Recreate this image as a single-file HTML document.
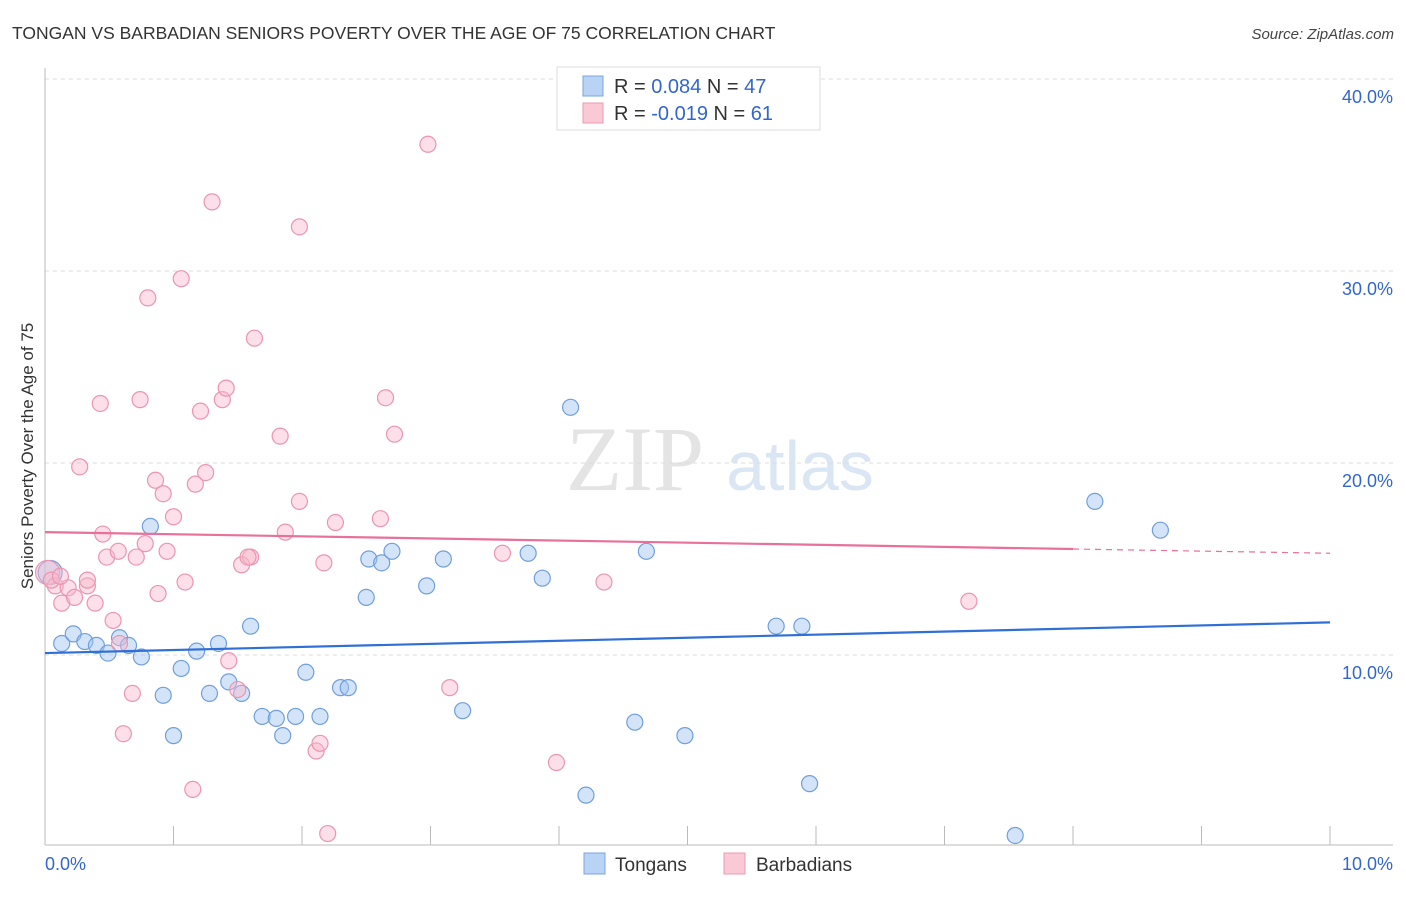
<!DOCTYPE html>
<html><head><meta charset="utf-8"><style>
body{margin:0;background:#fff;font-family:"Liberation Sans",sans-serif}
</style></head><body>
<svg id="chart" width="1406" height="892" xmlns="http://www.w3.org/2000/svg" font-family="Liberation Sans, sans-serif">
<text x="12" y="39" font-size="17.5" fill="#333">TONGAN VS BARBADIAN SENIORS POVERTY OVER THE AGE OF 75 CORRELATION CHART</text>
<text x="1394" y="39" font-size="15" fill="#444" text-anchor="end" font-style="italic">Source: ZipAtlas.com</text>
<text transform="translate(33,456) rotate(-90)" font-size="17" fill="#333" text-anchor="middle">Seniors Poverty Over the Age of 75</text>
<g><text x="635" y="490" font-size="92" fill="#e4e4e4" text-anchor="middle" font-family="Liberation Serif, serif">ZIP</text><text x="800" y="490" font-size="70" fill="#dbe6f4" text-anchor="middle">atlas</text></g>
<g id="grid"></g><g id="axes"></g><g id="marks"></g>
<g>
<rect x="557" y="67" width="263" height="63" fill="#fff" stroke="#ddd"/>
<rect x="583" y="76" width="20" height="20" fill="#b9d3f5" stroke="#7aa6e0"/>
<rect x="583" y="103" width="20" height="20" fill="#f9c9d6" stroke="#eb9ab2"/>
<text x="614" y="93" font-size="20" fill="#333">R = <tspan fill="#3366cc"> 0.084</tspan>   N = <tspan fill="#3366cc">47</tspan></text>
<text x="614" y="120" font-size="20" fill="#333">R = <tspan fill="#3366cc">-0.019</tspan>   N = <tspan fill="#3366cc"> 61</tspan></text>
</g>
<g>
<rect x="584" y="853" width="21" height="21" fill="#b9d3f5" stroke="#7aa6e0"/>
<text x="615" y="871" font-size="19" fill="#333">Tongans</text>
<rect x="724" y="853" width="21" height="21" fill="#f9c9d6" stroke="#eb9ab2"/>
<text x="756" y="871" font-size="19" fill="#333">Barbadians</text>
</g>
</svg>
<script>
const yTicks=[10,20,30,40];
const yTickLabels=["10.0%","20.0%","30.0%","40.0%"];
const xTickLabels=["0.0%","10.0%"];
const tonganX=[0.04,0.13,0.22,0.31,0.40,0.49,0.58,0.65,0.75,0.82,0.92,1.00,1.06,1.18,1.28,1.35,1.43,1.53,1.60,1.69,1.80,1.85,1.95,2.03,2.14,2.30,2.36,2.50,2.52,2.62,2.70,2.97,3.10,3.25,3.76,3.87,4.09,4.21,4.59,4.68,4.98,5.69,5.89,5.95,7.55,8.17,8.68];
const tonganY=[14.3,10.6,11.1,10.7,10.5,10.1,10.9,10.5,9.9,16.7,7.9,5.8,9.3,10.2,8.0,10.6,8.6,8.0,11.5,6.8,6.7,5.8,6.8,9.1,6.8,8.3,8.3,13.0,15.0,14.8,15.4,13.6,15.0,7.1,15.3,14.0,22.9,2.7,6.5,15.4,5.8,11.5,11.5,3.3,0.6,18.0,16.5];
const barbX=[0.02,0.08,0.13,0.18,0.23,0.27,0.33,0.39,0.43,0.45,0.48,0.53,0.57,0.61,0.68,0.71,0.74,0.78,0.80,0.86,0.88,0.92,0.95,1.00,1.06,1.09,1.17,1.15,1.21,1.25,1.30,1.38,1.41,1.43,1.50,1.53,1.60,1.63,1.83,1.87,1.98,1.98,2.11,2.14,2.17,2.20,2.26,2.61,2.65,2.72,2.98,3.15,3.56,3.98,4.35,7.19,0.05,0.12,0.58,1.58,0.33];
const barbY=[14.3,13.6,12.7,13.5,13.0,19.8,13.6,12.7,23.1,16.3,15.1,11.8,15.4,5.9,8.0,15.1,23.3,15.8,28.6,19.1,13.2,18.4,15.4,17.2,29.6,13.8,18.9,3.0,22.7,19.5,33.6,23.3,23.9,9.7,8.2,14.7,15.1,26.5,21.4,16.4,18.0,32.3,5.0,5.4,14.8,0.7,16.9,17.1,23.4,21.5,36.6,8.3,15.3,4.4,13.8,12.8,13.9,14.1,10.6,15.1,13.9];
const tonganTrend=[10.1,11.7];
const barbTrend=[16.4,15.3];
const NS="http://www.w3.org/2000/svg";
const X=v=>45+v*128.5, Y=v=>847-v*19.2;
function mk(tag,attrs,parent){const e=document.createElementNS(NS,tag);for(const k in attrs)e.setAttribute(k,attrs[k]);document.getElementById(parent).appendChild(e);return e;}
yTicks.forEach((t,i)=>{
 const l=mk('line',{x1:45,x2:1393,y1:Y(t),y2:Y(t),stroke:'#ddd','stroke-dasharray':'4,4'},'grid');
 
 
 const tx=mk('text',{x:1393,y:Y(t)+24,'font-size':18,fill:'#3366cc','text-anchor':'end'},'axes');
 tx.textContent=yTickLabels[i];
 
 
});
const ax=mk('line',{x1:45,x2:1393,y1:845,y2:845,stroke:'#bbb'},'axes');


const ay=mk('line',{x1:45,x2:45,y1:68,y2:845,stroke:'#bbb'},'axes');


for(let i=0;i<=10;i++){const t=mk('line',{x1:X(i),x2:X(i),y1:826,y2:845,stroke:'#bbb'},'axes');
 
 }
[[0,'start',45],[10,'end',1393]].forEach((d,i)=>{const t=mk('text',{x:d[2],y:870,'font-size':18,fill:'#3366cc','text-anchor':d[1]},'axes');t.textContent=xTickLabels[i];
 
 });
tonganX.forEach((x,i)=>{const c=mk('circle',{cx:X(x),cy:Y(tonganY[i]),r:i==0?12:8,fill:'rgba(160,195,240,0.45)',stroke:'#6f9fde','stroke-width':1.2},'marks');
 
 });
barbX.forEach((x,i)=>{const c=mk('circle',{cx:X(x),cy:Y(barbY[i]),r:i==0?12:8,fill:'rgba(248,185,205,0.45)',stroke:'#ec95b0','stroke-width':1.2},'marks');
 
 });
const tl=mk('line',{x1:X(0),x2:X(10),y1:Y(tonganTrend[0]),y2:Y(tonganTrend[1]),stroke:'#2f6fd6','stroke-width':2.2},'marks');


const f=8;const bm=barbTrend[0]+(barbTrend[1]-barbTrend[0])*f/10;
const bl=mk('line',{x1:X(0),x2:X(f),y1:Y(barbTrend[0]),y2:Y(bm),stroke:'#e8709a','stroke-width':2.2},'marks');


const bd=mk('line',{x1:X(f),x2:X(10),y1:Y(bm),y2:Y(barbTrend[1]),stroke:'#e8709a','stroke-width':1.2,'stroke-dasharray':'6,5'},'marks');


</script>
</body></html>
